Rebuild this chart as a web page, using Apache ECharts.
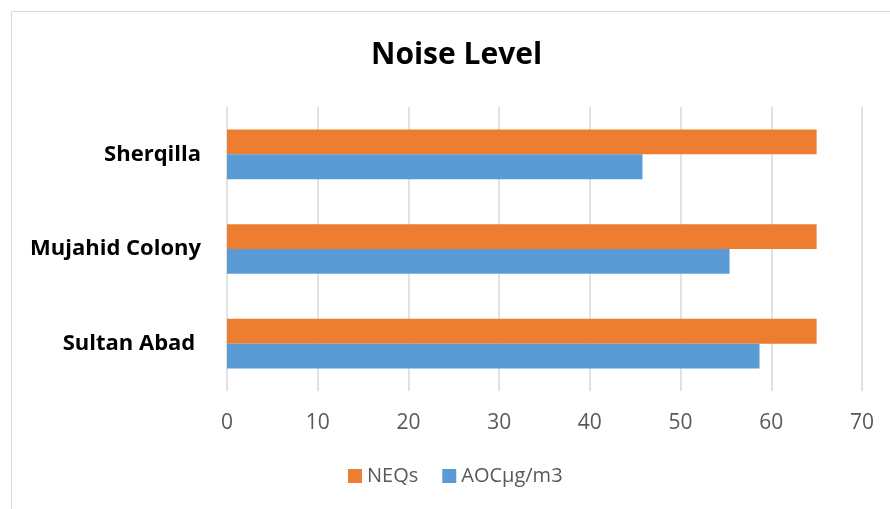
<!DOCTYPE html>
<html><head><meta charset="utf-8">
<script src="https://cdn.jsdelivr.net/npm/echarts@6/dist/echarts.min.js"></script>
<style>html,body{margin:0;padding:0;background:#fff}#c{width:890px;height:509px}</style>
</head><body><div id="c"></div>
<script>
const categories = ['Sultan Abad ', 'Mujahid Colony', 'Sherqilla'];
const seriesNames = ['NEQs', 'AOCµg/m3'];
const neqs = [65, 65, 65];
const aoc = [58.7, 55.4, 45.8];
const xTicks = { min: 0, max: 70, interval: 10 };

const chart = echarts.init(document.getElementById('c'), null, { renderer: 'canvas' });
const font = '"Open Sans", sans-serif';
chart.setOption({
  animation: false,
  backgroundColor: '#fff',
  graphic: [{
    type: 'rect', left: 9, top: 9, shape: { width: 900, height: 520 },
    style: { fill: 'none', stroke: '#d9d9d9', lineWidth: 1 }, silent: true
  }],
  title: {
    text: 'Noise Level', left: 366, top: 35,
    textStyle: { fontFamily: font, fontWeight: 'bold', fontSize: 30, color: '#000' }
  },
  legend: {
    bottom: 18, left: 343, itemWidth: 14, itemHeight: 14, itemGap: 24,
    icon: 'rect',
    textStyle: { fontFamily: font, fontSize: 20, color: '#595959' },
    data: seriesNames
  },
  grid: { left: 227, right: 28, top: 107, bottom: 118, containLabel: false },
  xAxis: {
    type: 'value', min: xTicks.min, max: xTicks.max, interval: xTicks.interval,
    axisLine: { show: false }, axisTick: { show: false },
    splitLine: { show: true, lineStyle: { color: '#d9d9d9', width: 1.5 } },
    axisLabel: { fontFamily: font, fontSize: 21, color: '#595959', margin: 22 }
  },
  yAxis: {
    type: 'category', data: categories,
    axisLine: { show: false }, axisTick: { show: false },
    axisLabel: { fontFamily: font, fontSize: 22, fontWeight: 'bold', color: '#000', margin: 26 }
  },
  series: [
    { name: seriesNames[0], type: 'bar', data: neqs, itemStyle: { color: '#ED7D31' },
      barGap: '0%', barCategoryGap: '47.6%' },
    { name: seriesNames[1], type: 'bar', data: aoc, itemStyle: { color: '#5B9BD5' },
      barGap: '0%', barCategoryGap: '47.6%' }
  ]
});
</script></body></html>
